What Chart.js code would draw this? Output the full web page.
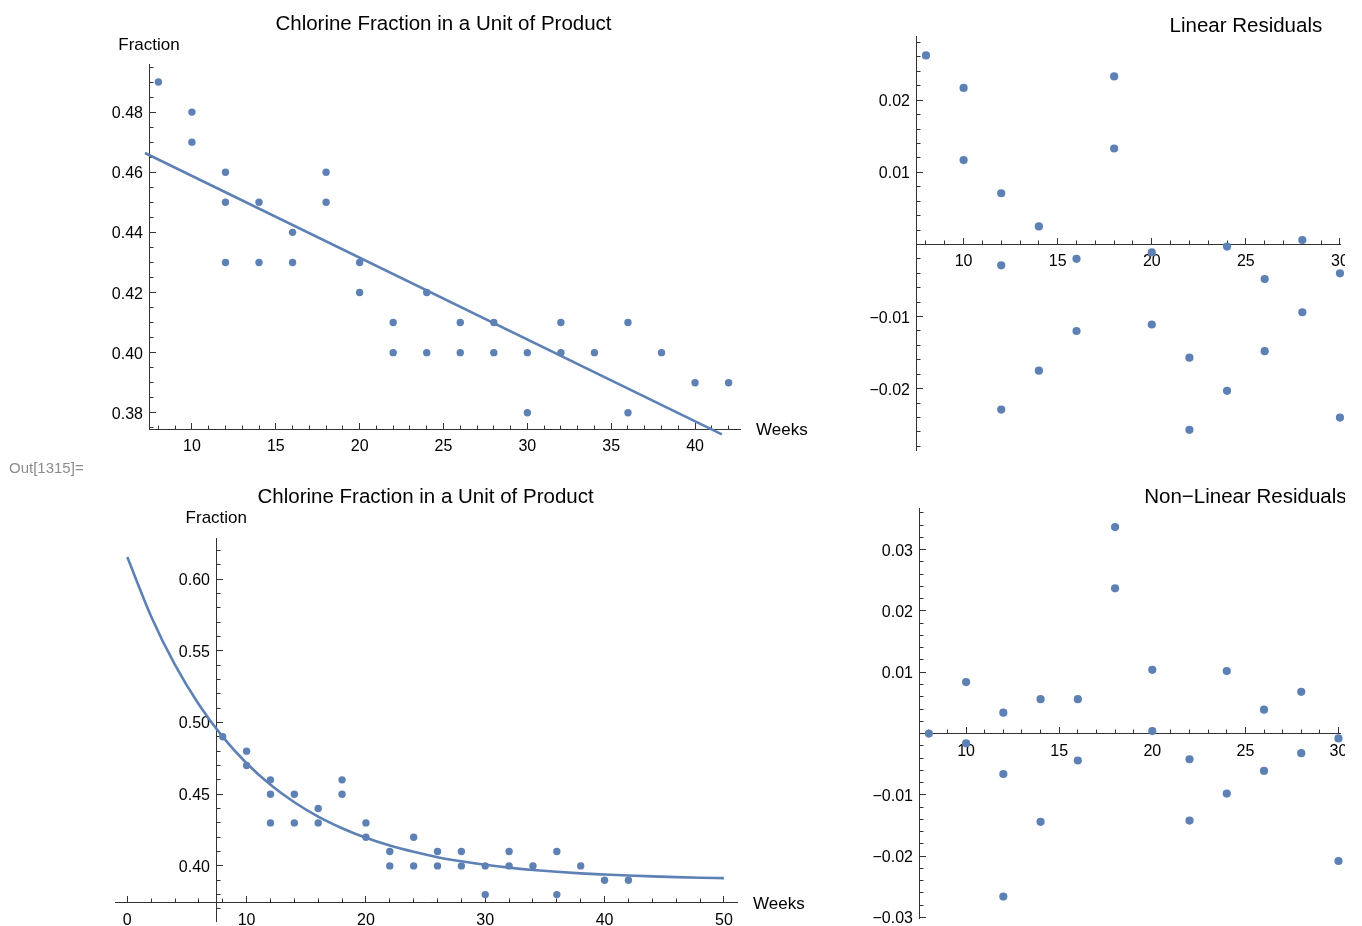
<!DOCTYPE html>
<html>
<head>
<meta charset="utf-8">
<script src="https://cdn.jsdelivr.net/npm/chart.js@4.4.1/dist/chart.umd.min.js"></script>
<style>
  html, body { margin: 0; padding: 0; background: #fff; }
  body { width: 1362px; height: 926px; position: relative; overflow: hidden; font-family: "Liberation Sans", Arial, sans-serif; }
  canvas { position: absolute; }
  #out { position: absolute; left: 9px; top: 459px; font-size: 15px; color: #8c8c8c; z-index: 2; }
</style>
</head>
<body>
<canvas id="fitLinear" width="840" height="470" style="left:0;top:0"></canvas>
<canvas id="resLinear" width="495" height="470" style="left:850px;top:0"></canvas>
<canvas id="fitNonLinear" width="840" height="451" style="left:0;top:475px"></canvas>
<canvas id="resNonLinear" width="495" height="451" style="left:850px;top:475px"></canvas>
<div id="out">Out[1315]=</div>
<script>
// chlorine fraction vs. weeks (distinct points as plotted)
const WEEKS = [8, 10, 10, 12, 12, 12, 14, 14, 16, 16, 18, 18, 20, 20, 22, 22,
               24, 24, 26, 26, 28, 28, 30, 30, 32, 32, 34, 36, 36, 38, 40, 42];
const FRACTION = [0.49, 0.48, 0.47, 0.46, 0.45, 0.43, 0.45, 0.43, 0.44, 0.43, 0.46, 0.45, 0.43, 0.42, 0.41, 0.40,
                  0.42, 0.40, 0.41, 0.40, 0.41, 0.40, 0.40, 0.38, 0.41, 0.40, 0.40, 0.41, 0.38, 0.40, 0.39, 0.39];

// linear fit, read at both ends of the drawn segment
const LIN_FIT_WEEKS = [7.2, 41.6];
const LIN_FIT_FRACTION = [0.4664, 0.3728];

// non-linear fit curve, read every 2 weeks
const NL_FIT_WEEKS = [0, 2, 4, 6, 8, 10, 12, 14, 16, 18, 20, 22, 24, 26, 28, 30, 32, 34, 36, 38, 40, 42, 44, 46, 48, 50];
const NL_FIT_FRACTION = [0.6153, 0.5739, 0.5401, 0.5125, 0.4900, 0.4716, 0.4566, 0.4444, 0.4344, 0.4263, 0.4196,
                         0.4142, 0.4098, 0.4061, 0.4032, 0.4008, 0.3988, 0.3972, 0.3959, 0.3948, 0.3940, 0.3933,
                         0.3927, 0.3922, 0.3918, 0.3915];

// residuals (visible part, up to week 30)
const RES_WEEKS = [8, 10, 10, 12, 12, 12, 14, 14, 16, 16, 18, 18, 20, 20, 22, 22, 24, 24, 26, 26, 28, 28, 30, 30];
const LIN_RESIDUALS = [0.0262, 0.0217, 0.0117, 0.0071, -0.0029, -0.0229, 0.0025, -0.0175, -0.0020, -0.0120,
                       0.0233, 0.0133, -0.0011, -0.0111, -0.0157, -0.0257, -0.0003, -0.0203, -0.0048, -0.0148,
                       0.0006, -0.0094, -0.0040, -0.0240];
const NL_RESIDUALS = [0.0000, 0.0084, -0.0016, 0.0034, -0.0066, -0.0266, 0.0056, -0.0144, 0.0056, -0.0044,
                      0.0337, 0.0237, 0.0104, 0.0004, -0.0042, -0.0142, 0.0102, -0.0098, 0.0039, -0.0061,
                      0.0068, -0.0032, -0.0008, -0.0208];

// tick values and labels
const FIT_X_TICKS = [10, 15, 20, 25, 30, 35, 40];
const FIT_Y_TICKS = [0.38, 0.40, 0.42, 0.44, 0.46, 0.48];
const FIT_Y_LABELS = ['0.38', '0.40', '0.42', '0.44', '0.46', '0.48'];
const NL_X_TICKS = [0, 10, 20, 30, 40, 50];
const NL_Y_TICKS = [0.40, 0.45, 0.50, 0.55, 0.60];
const NL_Y_LABELS = ['0.40', '0.45', '0.50', '0.55', '0.60'];
const RES_X_TICKS = [10, 15, 20, 25, 30];
const LIN_RES_Y_TICKS = [-0.02, -0.01, 0.01, 0.02];
const LIN_RES_Y_LABELS = ['\u22120.02', '\u22120.01', '0.01', '0.02'];
const NL_RES_Y_TICKS = [-0.03, -0.02, -0.01, 0.01, 0.02, 0.03];
const NL_RES_Y_LABELS = ['\u22120.03', '\u22120.02', '\u22120.01', '0.01', '0.02', '0.03'];

const BLUE = '#5e81b5';
const AXIS = '#333333';
const FONT = '"Liberation Sans", Arial, sans-serif';

const pts = (xs, ys) => xs.map((x, i) => ({ x, y: ys[i] }));
const crisp = p => Math.round(p - 0.5) + 0.5;

// major ticks from the list, minor ticks every `step` from `from`
function marks(scale, majors, step, from) {
  const out = majors.map(v => [v, true]);
  for (let i = 0; ; i++) {
    const v = from + i * step;
    if (v > scale.max + 1e-9) break;
    if (!majors.some(m => Math.abs(m - v) < step / 10)) out.push([v, false]);
  }
  return out;
}

// Mathematica-like axes: inward ticks, y tick labels, axis labels, plot label
const mmaAxes = {
  id: 'mma',
  beforeDatasetsDraw(chart, args, o) {
    const { ctx } = chart, xs = chart.scales.x, ys = chart.scales.y;
    const ax = crisp(xs.getPixelForValue(o.yAxisAt));
    const ay = crisp(ys.getPixelForValue(o.xAxisAt));
    ctx.save();
    ctx.strokeStyle = AXIS;
    ctx.lineWidth = 1;
    ctx.beginPath();
    marks(xs, o.xTicks, o.xMinor, o.xMinorFrom).forEach(([v, major]) => {
      const p = crisp(xs.getPixelForValue(v));
      ctx.moveTo(p, ay);
      ctx.lineTo(p, ay - (major ? 6.5 : 4));
    });
    marks(ys, o.yTicks, o.yMinor, o.yMinorFrom).forEach(([v, major]) => {
      const p = crisp(ys.getPixelForValue(v));
      ctx.moveTo(ax, p);
      ctx.lineTo(ax + (major ? 6.5 : 4), p);
    });
    ctx.stroke();

    // y tick labels, to the left of the axis wherever it sits
    ctx.fillStyle = '#000';
    ctx.font = '16px ' + FONT;
    ctx.textAlign = 'right';
    ctx.textBaseline = 'alphabetic';
    o.yTicks.forEach((v, i) => {
      ctx.fillText(o.yLabels[i], ax - 6.5, ys.getPixelForValue(v) + 6);
    });
    ctx.restore();
  },
  afterDraw(chart, args, o) {
    const { ctx } = chart, xs = chart.scales.x, ys = chart.scales.y;
    ctx.save();
    ctx.fillStyle = '#000';
    ctx.textBaseline = 'alphabetic';
    ctx.textAlign = 'center';
    ctx.font = '20.5px ' + FONT;
    ctx.fillText(o.title, xs.getPixelForValue(o.titleAt), o.titleY);
    ctx.font = '17px ' + FONT;
    if (o.yLabel) ctx.fillText(o.yLabel, xs.getPixelForValue(o.yAxisAt), o.yLabelY);
    if (o.xLabel) {
      ctx.textAlign = 'left';
      ctx.fillText(o.xLabel, chart.chartArea.right + 16, ys.getPixelForValue(o.xAxisAt) + 6);
    }
    ctx.restore();
  }
};

function axis(a, position, showLabels) {
  return {
    type: 'linear',
    min: a.min,
    max: a.max,
    position,
    grid: { display: false, drawTicks: false },
    border: { display: true, color: AXIS, width: 1 },
    ticks: {
      display: showLabels,
      font: { family: FONT, size: 16 },
      color: '#000',
      padding: 8,
      autoSkip: false,
      maxRotation: 0,
      minRotation: 0,
      callback: v => {
        const i = a.ticks.findIndex(t => Math.abs(t - v) < 1e-9);
        return i < 0 ? '' : String(a.ticks[i]);
      }
    },
    afterBuildTicks: s => { s.ticks = a.ticks.map(value => ({ value })); },
    afterFit: s => { s.paddingLeft = s.paddingRight = s.paddingTop = s.paddingBottom = 0; }
  };
}

function scatterSet(data, r) {
  return { data, pointRadius: r, pointBackgroundColor: BLUE, pointBorderWidth: 0, showLine: false, clip: false };
}

function lineSet(data) {
  return { data, showLine: true, borderColor: BLUE, borderWidth: 2.6, pointRadius: 0,
           cubicInterpolationMode: 'monotone', clip: false };
}

function panel(id, o) {
  return new Chart(document.getElementById(id), {
    type: 'scatter',
    data: { datasets: o.datasets },
    options: {
      responsive: false,
      animation: false,
      events: [],
      layout: { padding: o.padding },
      plugins: { legend: { display: false }, tooltip: { enabled: false }, mma: o.mma },
      scales: {
        x: axis(o.x, { y: o.mma.xAxisAt }, true),
        y: axis(o.y, { x: o.mma.yAxisAt }, false)
      }
    },
    plugins: [mmaAxes]
  });
}

panel('fitLinear', {
  padding: { left: 149, top: 64, right: 100, bottom: 41 },
  x: { min: 7.44, max: 42.68, ticks: FIT_X_TICKS },
  y: { min: 0.3746, max: 0.496, ticks: FIT_Y_TICKS },
  datasets: [scatterSet(pts(WEEKS, FRACTION), 3.7), lineSet(pts(LIN_FIT_WEEKS, LIN_FIT_FRACTION))],
  mma: { xAxisAt: 0.3746, yAxisAt: 7.44, xTicks: FIT_X_TICKS, xMinor: 1, xMinorFrom: 8,
         yTicks: FIT_Y_TICKS, yLabels: FIT_Y_LABELS, yMinor: 0.005, yMinorFrom: 0.375,
         title: 'Chlorine Fraction in a Unit of Product', titleAt: 25, titleY: 29.5,
         yLabel: 'Fraction', yLabelY: 49.5, xLabel: 'Weeks' }
});

panel('resLinear', {
  padding: { left: 66, top: 36, right: 0, bottom: 20 },
  x: { min: 7.47, max: 30.05, ticks: RES_X_TICKS },
  y: { min: -0.0285, max: 0.0289, ticks: LIN_RES_Y_TICKS },
  datasets: [scatterSet(pts(RES_WEEKS, LIN_RESIDUALS), 4.1)],
  mma: { xAxisAt: 0, yAxisAt: 7.47, xTicks: RES_X_TICKS, xMinor: 1, xMinorFrom: 8,
         yTicks: LIN_RES_Y_TICKS, yLabels: LIN_RES_Y_LABELS, yMinor: 0.002, yMinorFrom: -0.028,
         title: 'Linear Residuals', titleAt: 25, titleY: 31.5 }
});

panel('fitNonLinear', {
  padding: { left: 115, top: 63, right: 103, bottom: 5 },
  x: { min: -1.03, max: 51.1, ticks: NL_X_TICKS },
  y: { min: 0.3616, max: 0.6286, ticks: NL_Y_TICKS },
  datasets: [scatterSet(pts(WEEKS, FRACTION), 3.7), lineSet(pts(NL_FIT_WEEKS, NL_FIT_FRACTION))],
  mma: { xAxisAt: 0.3744, yAxisAt: 7.46, xTicks: NL_X_TICKS, xMinor: 2, xMinorFrom: 0,
         yTicks: NL_Y_TICKS, yLabels: NL_Y_LABELS, yMinor: 0.01, yMinorFrom: 0.37,
         title: 'Chlorine Fraction in a Unit of Product', titleAt: 25, titleY: 27.7,
         yLabel: 'Fraction', yLabelY: 47.7, xLabel: 'Weeks' }
});

panel('resNonLinear', {
  padding: { left: 69, top: 33, right: 0, bottom: 8 },
  x: { min: 7.47, max: 30.13, ticks: RES_X_TICKS },
  y: { min: -0.0301, max: 0.0368, ticks: NL_RES_Y_TICKS },
  datasets: [scatterSet(pts(RES_WEEKS, NL_RESIDUALS), 4.1)],
  mma: { xAxisAt: 0, yAxisAt: 7.47, xTicks: RES_X_TICKS, xMinor: 1, xMinorFrom: 8,
         yTicks: NL_RES_Y_TICKS, yLabels: NL_RES_Y_LABELS, yMinor: 0.002, yMinorFrom: -0.03,
         title: 'Non\u2212Linear Residuals', titleAt: 25, titleY: 28.3 }
});
</script>
</body>
</html>
